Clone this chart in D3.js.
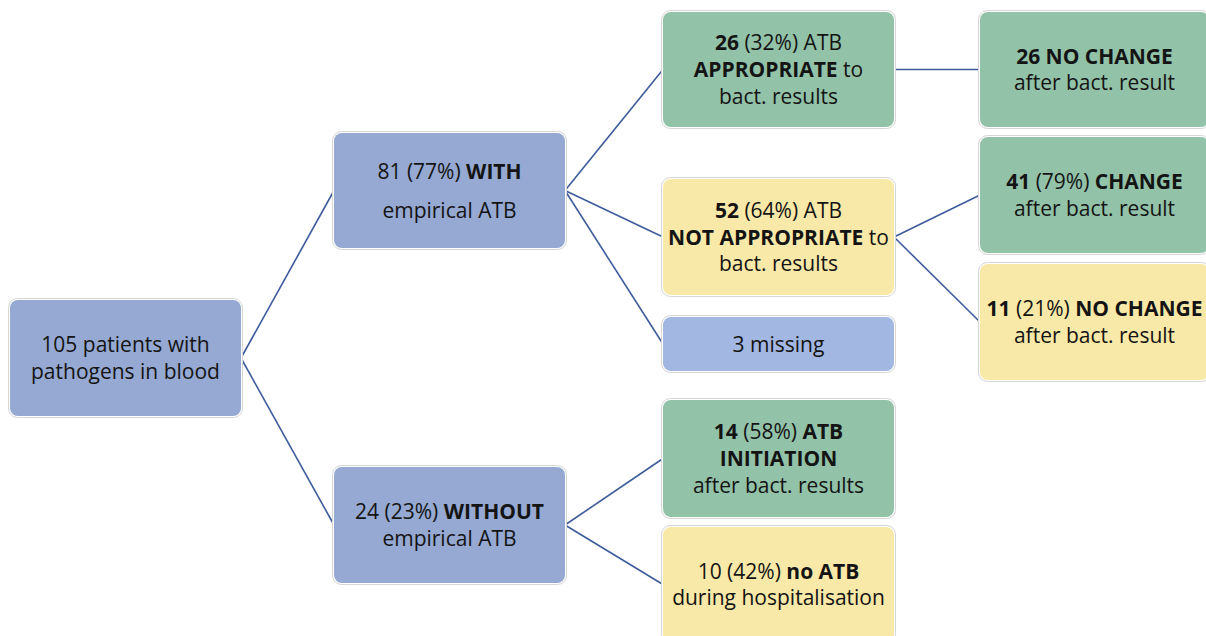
<!DOCTYPE html>
<html><head><meta charset="utf-8">
<script src="https://cdn.jsdelivr.net/npm/d3@7"></script>
<style>html,body{margin:0;padding:0;background:#fff;overflow:hidden}</style>
</head><body>
<svg id="chart" width="1206" height="636"></svg>
<script>
// ---- data ----
const nodeIds = ["root","with","without","appr","notappr","missing","nochange26","change41","nochange11","init","noatb"];
const parentIds = [null,"root","root","with","with","with","appr","notappr","notappr","without","without"];
const counts = [105,81,24,26,52,3,26,41,11,14,10];
const categories = ["blue","blue","blue","green","yellow","lightblue","green","green","yellow","green","yellow"];
// label lines: arrays of [text, bold]
const labels = [
  [[["105 patients with",0]],[["pathogens in blood",0]]],
  [[["81 (77%) ",0],["WITH",1]],[["empirical ATB",0]]],
  [[["24 (23%) ",0],["WITHOUT",1]],[["empirical ATB",0]]],
  [[["26",1],[" (32%) ATB",0]],[["APPROPRIATE",1],[" to",0]],[["bact. results",0]]],
  [[["52",1],[" (64%) ATB",0]],[["NOT APPROPRIATE",1],[" to",0]],[["bact. results",0]]],
  [[["3 missing",0]]],
  [[["26 NO CHANGE",1]],[["after bact. result",0]]],
  [[["41",1],[" (79%) ",0],["CHANGE",1]],[["after bact. result",0]]],
  [[["11",1],[" (21%) ",0],["NO CHANGE",1]],[["after bact. result",0]]],
  [[["14",1],[" (58%) ",0],["ATB",1]],[["INITIATION",1]],[["after bact. results",0]]],
  [[["10 (42%) ",0],["no ATB",1]],[["during hospitalisation",0]]]
];

// ---- layout (positions/styles kept apart from data) ----
const colour = {blue:"#95a9d2", lightblue:"#a2b7e1", green:"#92c2a8", yellow:"#f9e9a8"};
const colLeft = [10, 334, 663, 980];
const colWidth = [231, 231, 231, 229];
const depthOf = {root:0, with:1, without:1, appr:2, notappr:2, missing:2, init:2, noatb:2, nochange26:3, change41:3, nochange11:3};
const boxY = {root:[300,416], with:[133,248], without:[467,583], appr:[12,127], notappr:[179,295], missing:[317,371],
  init:[400,517], noatb:[527,642], nochange26:[12,127], change41:[137,253], nochange11:[264,380]};
const lineGap = {with:39};

const svg = d3.select("#chart");
const x = d3.scaleLinear().domain([0,1]).range([0,1]);
const y = d3.scaleLinear().domain([0,636]).range([0,636]);

const nodes = nodeIds.map((id,i)=>{
  const d = depthOf[id];
  const x0 = x(colLeft[d]), x1 = x(colLeft[d]+colWidth[d]);
  const y0 = y(boxY[id][0]), y1 = y(boxY[id][1]);
  return {id, parent:parentIds[i], count:counts[i], cat:categories[i], label:labels[i], x0,x1,y0,y1, cx:(x0+x1)/2, cy:(y0+y1)/2};
});
const byId = Object.fromEntries(nodes.map(n=>[n.id,n]));

// links
const links = nodes.filter(n=>n.parent).map(n=>({s:byId[n.parent], t:n}));
svg.append("g").selectAll("line").data(links).join("line")
  .attr("x1",d=>d.s.x1).attr("y1",d=>d.s.cy)
  .attr("x2",d=>d.t.x0).attr("y2",d=>d.t.cy)
  .attr("stroke","#3e5b9b").attr("stroke-width",1.6);

// boxes
const g = svg.append("g").selectAll("g").data(nodes).join("g");
g.append("rect")
  .attr("x",d=>d.x0-1.5).attr("y",d=>d.y0-1.5)
  .attr("width",d=>d.x1-d.x0+3).attr("height",d=>d.y1-d.y0+3)
  .attr("rx",9).attr("fill","#ffffff").attr("stroke","#d6d6d6").attr("stroke-width",1);
g.append("rect")
  .attr("x",d=>d.x0).attr("y",d=>d.y0)
  .attr("width",d=>d.x1-d.x0).attr("height",d=>d.y1-d.y0)
  .attr("rx",8).attr("fill",d=>colour[d.cat]);

// text
g.each(function(d){
  const n = d.label.length;
  const gap = lineGap[d.id] || 26.8;
  const t = d3.select(this).append("text")
    .attr("text-anchor","middle")
    .attr("font-family","'Open Sans', 'Noto Sans', sans-serif")
    .attr("font-size",21).attr("fill","#141414");
  d.label.forEach((line,li)=>{
    const ty = d.cy + (li-(n-1)/2)*gap + 7.5;
    line.forEach((seg,si)=>{
      const ts = t.append("tspan").text(seg[0]).attr("font-weight",seg[1]?700:400).attr("xml:space","preserve");
      if(si===0) ts.attr("x",d.cx).attr("y",ty);
    });
  });
});
</script>
</body></html>
